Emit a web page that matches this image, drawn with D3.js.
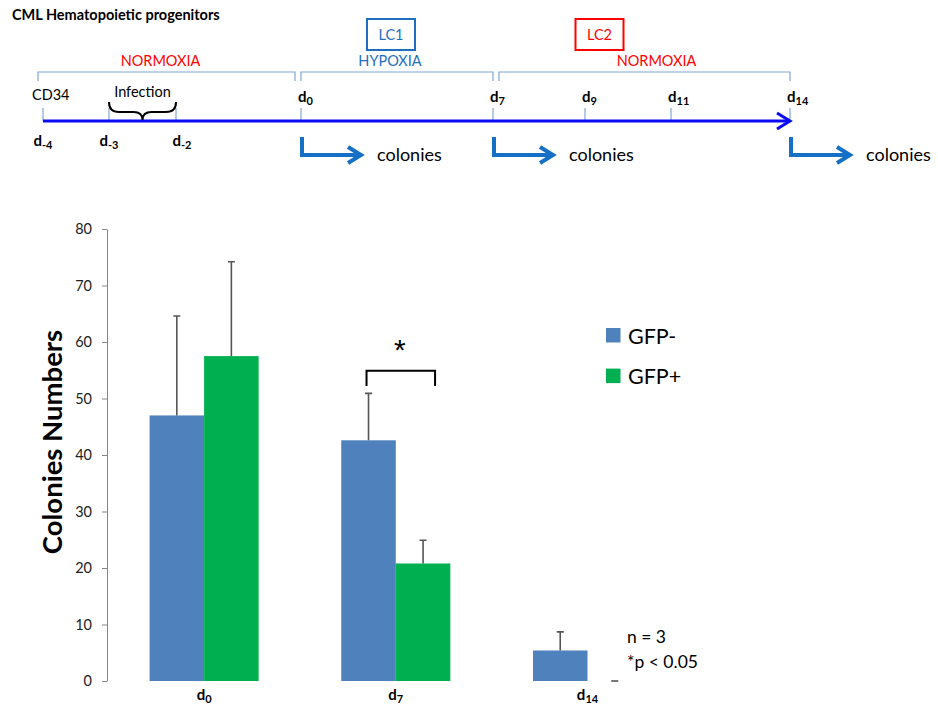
<!DOCTYPE html>
<html>
<head>
<meta charset="utf-8">
<script src="https://cdn.jsdelivr.net/npm/d3@7"></script>
<style>
  body { margin: 0; background: #fff; }
  svg { display: block; font-family: Lato, 'Open Sans', sans-serif; }
</style>
</head>
<body>
<div id="chart"></div>
<script>
// ---- timeline schematic data ----
const timelineDays = [-4, -3, -2, 0, 7, 9, 11, 14];
const belowDays = [-4, -3, -2];
const aboveDays = [0, 7, 9, 11, 14];
const phaseNames = ['NORMOXIA', 'HYPOXIA', 'NORMOXIA'];
const phaseStart = [-4, 0, 7];
const phaseEnd = [0, 7, 14];
const cultureNames = ['LC1', 'LC2'];
const cultureDays = [3.5, 9.5];
const colonyDays = [0, 7, 14];
const infectionDays = [-3, -2];

// ---- bar chart data ----
const categories = ['0', '7', '14'];
const series = ['GFP-', 'GFP+'];
const gfpNeg = [47.0, 42.6, 5.4];
const gfpPos = [57.5, 20.8, 0];
const gfpNegErr = [17.6, 8.3, 3.3];
const gfpPosErr = [16.7, 4.1, 0];
const yTicks = [0, 10, 20, 30, 40, 50, 60, 70, 80];

const width = 938, height = 708;
const red = '#ff0000', blue = '#1f6fc0', pale = '#7fa6d8';

const svg = d3.select('#chart').append('svg')
    .attr('width', width)
    .attr('height', height);

svg.append('text')
    .attr('x', 12).attr('y', 20)
    .attr('font-size', 14.5).attr('font-weight', 'bold')
    .text('CML Hematopoietic progenitors');

// hand-drawn schematic, so the day axis is piecewise
const dayX = d3.scaleLinear()
    .domain(timelineDays)
    .range([43, 109, 176, 301, 493, 585, 671, 790]);
const lineY = 121;

// "d" with a subscript day number
function dayLabel(sel, d) {
    sel.append('tspan').text('d');
    sel.append('tspan')
        .attr('font-size', 11)
        .attr('dy', 3)
        .text(d);
}

function drawTimeline() {
    const g = svg.append('g');

    // phase brackets
    const insetL = [-5, 0, 6], insetR = [-6, 0, 0], labelDx = [-6, -7, 12];
    const labelColor = [red, blue, red];
    phaseNames.forEach((name, i) => {
        const x1 = dayX(phaseStart[i]) + insetL[i];
        const x2 = dayX(phaseEnd[i]) + insetR[i];
        g.append('path')
            .attr('d', `M${x1},81V72H${x2}V81`)
            .attr('fill', 'none')
            .attr('stroke', pale)
            .attr('stroke-width', 1.2);
        g.append('text')
            .attr('x', (x1 + x2) / 2 + labelDx[i])
            .attr('y', 66)
            .attr('text-anchor', 'middle')
            .attr('font-size', 14.5)
            .attr('fill', labelColor[i])
            .text(name);
    });

    // culture boxes LC1 / LC2
    const boxColor = [blue, red];
    cultureNames.forEach((name, i) => {
        const cx = dayX(cultureDays[i]) + (i === 0 ? -6 : -7);
        g.append('rect')
            .attr('x', cx - 24).attr('y', 19)
            .attr('width', 48).attr('height', 31)
            .attr('fill', 'none')
            .attr('stroke', boxColor[i])
            .attr('stroke-width', 2);
        g.append('text')
            .attr('x', cx).attr('y', 40)
            .attr('text-anchor', 'middle')
            .attr('font-size', 14.5)
            .attr('fill', boxColor[i])
            .text(name);
    });

    // tick marks on the day line
    g.selectAll('.day-tick')
        .data(timelineDays)
        .join('line')
        .attr('class', 'day-tick')
        .attr('x1', d => dayX(d)).attr('x2', d => dayX(d))
        .attr('y1', 108).attr('y2', lineY)
        .attr('stroke', pale)
        .attr('stroke-width', 1.2);

    // main blue arrow
    const xEnd = dayX(14);
    g.append('line')
        .attr('x1', dayX(-4)).attr('x2', xEnd - 1)
        .attr('y1', lineY).attr('y2', lineY)
        .attr('stroke', '#0a0af5')
        .attr('stroke-width', 3);
    g.append('path')
        .attr('d', `M${xEnd - 13},${lineY - 8}L${xEnd},${lineY}L${xEnd - 13},${lineY + 8}`)
        .attr('fill', 'none')
        .attr('stroke', '#0a0af5')
        .attr('stroke-width', 3);

    belowDays.forEach(d => {
        g.append('text')
            .attr('x', dayX(d) + (d === -2 ? 6 : 0))
            .attr('y', 146)
            .attr('text-anchor', 'middle')
            .attr('font-size', 15)
            .attr('font-weight', 'bold')
            .call(dayLabel, d);
    });
    aboveDays.forEach(d => {
        g.append('text')
            .attr('x', dayX(d) - 3)
            .attr('y', 102)
            .attr('font-size', 15)
            .attr('font-weight', 'bold')
            .call(dayLabel, d);
    });

    g.append('text')
        .attr('x', 32).attr('y', 100)
        .attr('font-size', 14.5)
        .text('CD34');

    // infection brace
    const bx1 = dayX(infectionDays[0]), bx2 = dayX(infectionDays[1]);
    const bm = (bx1 + bx2) / 2, top = 102, mid = 112, bot = 120;
    g.append('path')
        .attr('d', `M${bx1},${top}Q${bx1},${mid} ${bx1 + 10},${mid}L${bm - 9},${mid}` +
            `Q${bm},${mid} ${bm},${bot}Q${bm},${mid} ${bm + 9},${mid}` +
            `L${bx2 - 10},${mid}Q${bx2},${mid} ${bx2},${top}`)
        .attr('fill', 'none')
        .attr('stroke', '#000')
        .attr('stroke-width', 2);
    g.append('text')
        .attr('x', bm).attr('y', 97)
        .attr('text-anchor', 'middle')
        .attr('font-size', 14.5)
        .text('Infection');

    // colony arrows
    colonyDays.forEach(d => {
        const x = dayX(d);
        g.append('path')
            .attr('d', `M${x + 1},137V155H${x + 60}`)
            .attr('fill', 'none')
            .attr('stroke', '#1570c6')
            .attr('stroke-width', 4);
        g.append('path')
            .attr('d', `M${x + 47},147L${x + 60},155L${x + 47},163`)
            .attr('fill', 'none')
            .attr('stroke', '#1570c6')
            .attr('stroke-width', 4);
        g.append('text')
            .attr('x', x + 76).attr('y', 161)
            .attr('font-size', 18)
            .text('colonies');
    });
}

function drawBars() {
    const y = d3.scaleLinear().domain([0, 80]).range([681, 229]);
    const x0 = d3.scaleBand()
        .domain(categories)
        .range([107, 684.6])
        .paddingInner(0.431)
        .paddingOuter(0.222);
    const x1 = d3.scaleBand()
        .domain(series)
        .range([0, x0.bandwidth()]);
    const color = d3.scaleOrdinal().domain(series).range(['#4f81bd', '#00b050']);

    const rows = categories.map((c, i) => ({
        cat: c,
        vals: [
            { s: 'GFP-', v: gfpNeg[i], e: gfpNegErr[i] },
            { s: 'GFP+', v: gfpPos[i], e: gfpPosErr[i] }
        ]
    }));

    const g = svg.append('g');

    // y axis
    const axis = g.append('g')
        .attr('transform', 'translate(107,0)')
        .call(d3.axisLeft(y).tickValues(yTicks).tickSize(5).tickSizeOuter(0).tickPadding(10));
    axis.select('.domain').attr('stroke', '#868686');
    axis.selectAll('.tick line').attr('stroke', '#868686');
    axis.selectAll('.tick text')
        .attr('font-size', 14.5)
        .attr('font-family', 'Lato, sans-serif')
        .attr('fill', '#222');

    const grp = g.selectAll('.grp')
        .data(rows)
        .join('g')
        .attr('class', 'grp')
        .attr('transform', d => `translate(${x0(d.cat)},0)`);

    grp.selectAll('rect')
        .data(d => d.vals)
        .join('rect')
        .attr('x', d => x1(d.s))
        .attr('y', d => y(d.v))
        .attr('width', x1.bandwidth())
        .attr('height', d => y(0) - y(d.v))
        .attr('fill', d => color(d.s));

    // upper error bars
    grp.selectAll('.err')
        .data(d => d.vals)
        .join('path')
        .attr('class', 'err')
        .attr('d', d => {
            const cx = x1(d.s) + x1.bandwidth() / 2;
            return `M${cx},${y(d.v)}V${y(d.v + d.e)}M${cx - 3.5},${y(d.v + d.e)}H${cx + 3.5}`;
        })
        .attr('fill', 'none')
        .attr('stroke', '#555')
        .attr('stroke-width', 1.6);

    // category labels
    g.selectAll('.cat')
        .data(categories)
        .join('text')
        .attr('class', 'cat')
        .attr('x', d => x0(d) + x0.bandwidth() / 2)
        .attr('y', 700)
        .attr('text-anchor', 'middle')
        .attr('font-size', 15)
        .attr('font-weight', 'bold')
        .each(function (d) { dayLabel(d3.select(this), d); });

    // y title
    g.append('text')
        .attr('transform', 'translate(62,442) rotate(-90)')
        .attr('text-anchor', 'middle')
        .attr('font-size', 27.5)
        .attr('font-weight', 'bold')
        .text('Colonies Numbers');

    // significance bracket on d7
    const bl = x0('7') + x1('GFP-') + x1.bandwidth() / 2 - 2;
    const br = x0('7') + x1('GFP+') + x1.bandwidth() * 0.72;
    g.append('path')
        .attr('d', `M${bl},${y(52.2)}V${y(54.9)}H${br}V${y(52.2)}`)
        .attr('fill', 'none')
        .attr('stroke', '#000')
        .attr('stroke-width', 2);
    g.append('text')
        .attr('x', (bl + br) / 2 - 1)
        .attr('y', 360)
        .attr('text-anchor', 'middle')
        .attr('font-size', 30)
        .attr('font-family', 'Liberation Sans, sans-serif')
        .text('*');

    // legend
    const leg = g.selectAll('.leg')
        .data(series)
        .join('g')
        .attr('class', 'leg')
        .attr('transform', (d, i) => `translate(606,${328 + i * 40.6})`);
    leg.append('rect')
        .attr('width', 14.5).attr('height', 14.5)
        .attr('fill', d => color(d));
    leg.append('text')
        .attr('x', 22).attr('y', 15.5)
        .attr('font-size', 21.5)
        .text(d => d);

    g.append('text')
        .attr('x', 627).attr('y', 643)
        .attr('font-size', 17.5)
        .text('n = 3');
    g.append('text')
        .attr('x', 627).attr('y', 668)
        .attr('font-size', 17.5)
        .text('*p < 0.05');
}

drawTimeline();
drawBars();
</script>
</body>
</html>
